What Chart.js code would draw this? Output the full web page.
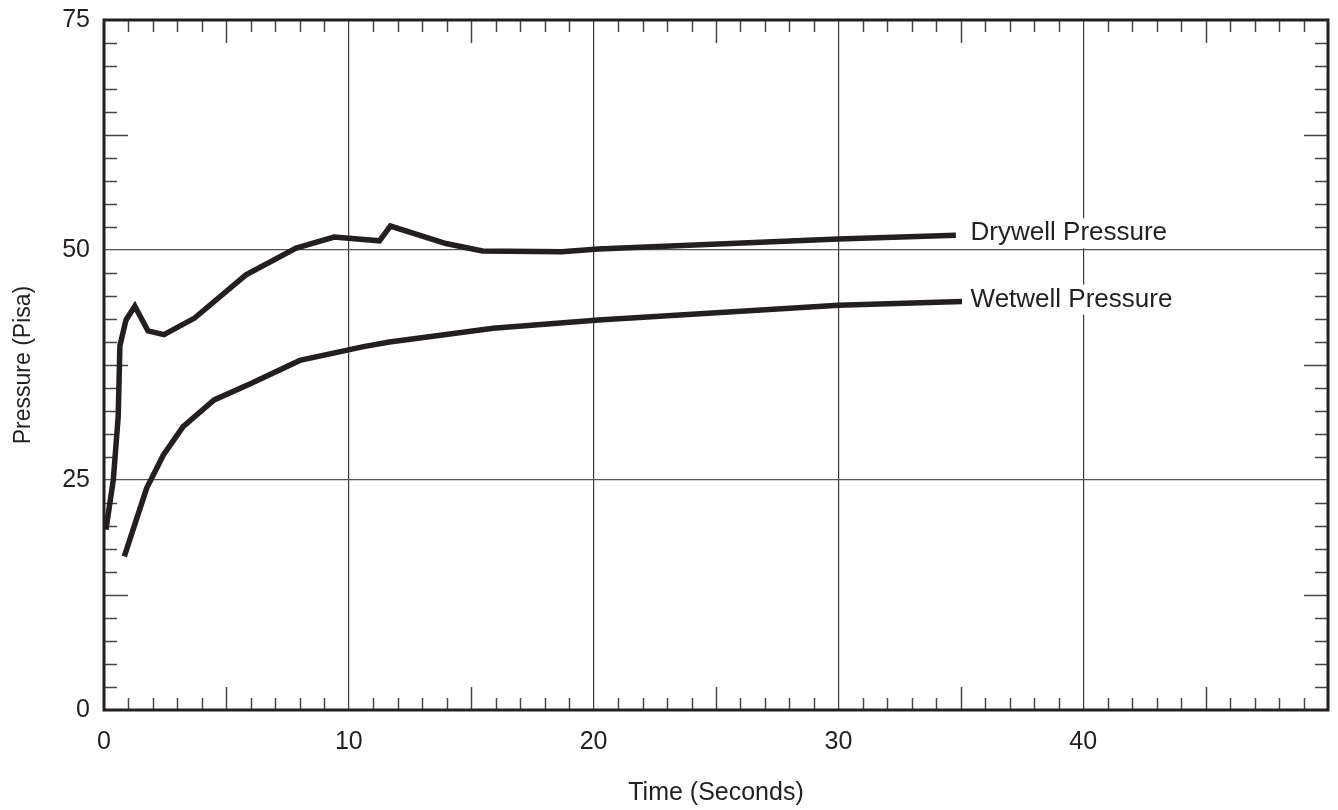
<!DOCTYPE html>
<html>
<head>
<meta charset="utf-8">
<script src="https://cdn.jsdelivr.net/npm/chart.js@4"></script>
<style>
  html, body { margin: 0; padding: 0; background: #fff; }
  #wrap { width: 1338px; height: 810px; }
</style>
</head>
<body>
<div id="wrap"><canvas id="chartPressure" width="1338" height="810"></canvas></div>
<script>
// values
var drywellTime     = [0.08, 0.38, 0.58, 0.65, 0.9, 1.26, 1.8, 2.45, 3.7, 5.8, 7.85, 9.4, 11.25, 11.7, 13.97, 15.46, 18.7, 20.2, 30, 34.8];
var drywellPressure = [19.6, 25.0, 31.9, 39.6, 42.4, 43.9, 41.2, 40.8, 42.6, 47.3, 50.2, 51.4, 51.0, 52.6, 50.7, 49.9, 49.8, 50.1, 51.2, 51.6];

var wetwellTime     = [0.83, 1.74, 2.42, 3.23, 4.5, 6.0, 8.0, 10.6, 11.66, 15.9, 20.2, 30, 35.05];
var wetwellPressure = [16.7, 24.1, 27.7, 30.8, 33.7, 35.5, 38.0, 39.5, 40.0, 41.5, 42.4, 44.0, 44.4];

var xTickLabels = [0, 10, 20, 30, 40];
var yTickLabels = [0, 25, 50, 75];

var seriesLabels = ['Drywell Pressure', 'Wetwell Pressure'];

var ink = '#231f20';
var fontFamily = '"Liberation Sans", Arial, Helvetica, sans-serif';

function toPoints(xs, ys) {
    var pts = [];
    for (var i = 0; i < xs.length; i++) {
        pts.push({ x: xs[i], y: ys[i] });
    }
    return pts;
}

// minor ticks pointing inward + heavy frame
var frameTicks = {
    id: 'frameTicks',
    beforeDatasetsDraw: function(chart) {
        var ctx = chart.ctx, a = chart.chartArea;
        var xs = chart.scales.x, ys = chart.scales.y;
        ctx.save();
        ctx.strokeStyle = '#444';
        ctx.lineWidth = 1.5;
        ctx.beginPath();
        for (var t = 1; t < 50; t++) {
            if (t % 10 === 0) continue;
            var len = (t % 5 === 0) ? 23 : 12;
            var px = Math.round(xs.getPixelForValue(t)) + 0.5;
            ctx.moveTo(px, a.bottom); ctx.lineTo(px, a.bottom - len);
            ctx.moveTo(px, a.top); ctx.lineTo(px, a.top + len);
        }
        for (var k = 1; k < 30; k++) {
            if (k % 10 === 0) continue;
            var v = k * 2.5;
            var l2 = (k % 5 === 0) ? 24 : 13;
            var py = Math.round(ys.getPixelForValue(v)) + 0.5;
            ctx.moveTo(a.left, py); ctx.lineTo(a.left + l2, py);
            ctx.moveTo(a.right, py); ctx.lineTo(a.right - l2, py);
        }
        ctx.stroke();
        ctx.restore();
    },
    afterDatasetsDraw: function(chart) {
        var ctx = chart.ctx, a = chart.chartArea;
        var xs = chart.scales.x, ys = chart.scales.y;
        // series labels at the end of each line
        ctx.save();
        ctx.font = '26px ' + fontFamily;
        ctx.textBaseline = 'middle';
        ctx.textAlign = 'left';
        var ends = [drywellPressure[drywellPressure.length - 1], wetwellPressure[wetwellPressure.length - 1]];
        for (var i = 0; i < seriesLabels.length; i++) {
            var tx = xs.getPixelForValue(35.4);
            var ty = ys.getPixelForValue(ends[i]) - 2;
            var w = ctx.measureText(seriesLabels[i]).width;
            ctx.fillStyle = '#fff';
            ctx.fillRect(tx - 2, ty - 15, w + 6, 30);
            ctx.fillStyle = ink;
            ctx.fillText(seriesLabels[i], tx, ty);
        }
        // frame
        ctx.strokeStyle = ink;
        ctx.lineWidth = 3;
        ctx.strokeRect(a.left, a.top, a.right - a.left, a.bottom - a.top);
        ctx.restore();
    }
};

var ctx = document.getElementById('chartPressure');
var myChartPressure = new Chart(ctx, {
    type: 'line',
    data: {
        datasets: [{
            label: seriesLabels[0],
            data: toPoints(drywellTime, drywellPressure),
            borderColor: ink,
            borderWidth: 5.5,
            borderJoinStyle: 'miter',
            pointRadius: 0,
            tension: 0,
            fill: false
        }, {
            label: seriesLabels[1],
            data: toPoints(wetwellTime, wetwellPressure),
            borderColor: ink,
            borderWidth: 5.5,
            borderJoinStyle: 'miter',
            pointRadius: 0,
            tension: 0,
            fill: false
        }]
    },
    options: {
        responsive: false,
        animation: false,
        layout: { padding: { top: 20, right: 10, left: 0, bottom: 0 } },
        plugins: {
            legend: { display: false },
            tooltip: { enabled: false }
        },
        scales: {
            x: {
                type: 'linear',
                min: 0,
                max: 50,
                afterBuildTicks: function(scale) {
                    scale.ticks = xTickLabels.map(function(v) { return { value: v }; });
                },
                afterFit: function(scale) { scale.height = 100; },
                ticks: {
                    color: ink,
                    font: { family: fontFamily, size: 25 },
                    padding: 17,
                    maxRotation: 0
                },
                grid: {
                    color: '#3a3a3a',
                    lineWidth: 1.2,
                    drawTicks: false
                },
                border: { display: false },
                title: {
                    display: true,
                    text: 'Time (Seconds)',
                    color: ink,
                    font: { family: fontFamily, size: 25 },
                    padding: { top: 0, bottom: 2 }
                }
            },
            y: {
                type: 'linear',
                min: 0,
                max: 75,
                afterBuildTicks: function(scale) {
                    scale.ticks = yTickLabels.map(function(v) { return { value: v }; });
                },
                afterFit: function(scale) {
                    scale.width = 104;
                    scale.paddingTop = 0;
                    scale.paddingBottom = 0;
                },
                ticks: {
                    color: ink,
                    font: { family: fontFamily, size: 25 },
                    padding: 14
                },
                grid: {
                    color: '#555',
                    lineWidth: 1.2,
                    drawTicks: false
                },
                border: { display: false },
                title: {
                    display: true,
                    text: 'Pressure (Pisa)',
                    color: ink,
                    font: { family: fontFamily, size: 23 },
                    padding: { top: 10, bottom: 0 }
                }
            }
        }
    },
    plugins: [frameTicks]
});
</script>
</body>
</html>
